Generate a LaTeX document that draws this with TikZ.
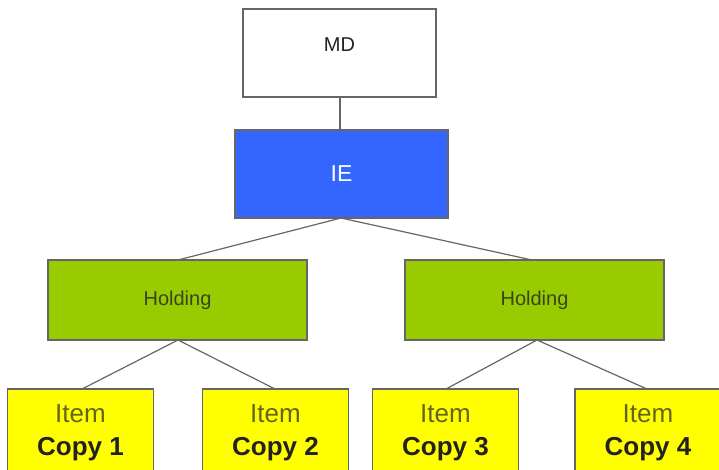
\documentclass[tikz,border=0pt]{standalone}
\usepackage{fontspec}
\setmainfont{Liberation Sans}
\definecolor{iefill}{HTML}{3366FF}
\definecolor{holdfill}{HTML}{99CC00}
\definecolor{itemfill}{HTML}{FFFF00}
\definecolor{edgegray}{HTML}{666666}
\definecolor{txtgray}{HTML}{222222}
\begin{document}
\begin{tikzpicture}[x=1pt,y=-1pt,
  box/.style={draw=edgegray,line width=1.2pt,rectangle,inner sep=0pt,align=center},
  mdbox/.style={box,fill=white,minimum width=193pt,minimum height=88pt,text=txtgray,font=\fontsize{20}{24}\selectfont,text height=15pt,text depth=19pt},
  iebox/.style={box,fill=iefill,minimum width=213pt,minimum height=88pt,text=white,font=\fontsize{23}{27}\selectfont},
  holdbox/.style={box,fill=holdfill,minimum width=259pt,minimum height=80pt,text=txtgray!80!holdfill,font=\fontsize{20}{24}\selectfont},
  itembox/.style={box,fill=itemfill,minimum width=146pt,minimum height=88pt,text=txtgray,font=\fontsize{26}{33}\selectfont},
  link/.style={draw=edgegray,line width=1.2pt}]
\clip (0,0) rectangle (719,469);
\fill[white] (0,0) rectangle (719,469);
\node[mdbox] (md) at (339.5,53) {MD};
\node[iebox] (ie) at (341.5,174) {IE};
\node[holdbox] (h1) at (177.5,300) {Holding};
\node[holdbox] (h2) at (534.5,300) {Holding};
\node[itembox] (c1) at (80.5,433) {\color{txtgray!70!itemfill}Item\\\textbf{Copy 1}};
\node[itembox] (c2) at (275.5,433) {\color{txtgray!70!itemfill}Item\\\textbf{Copy 2}};
\node[itembox] (c3) at (445.5,433) {\color{txtgray!70!itemfill}Item\\\textbf{Copy 3}};
\node[itembox] (c4) at (648,433) {\color{txtgray!70!itemfill}Item\\\textbf{Copy 4}};
\coordinate (iet) at (340,130);
\coordinate (mdb) at (340,97);
\coordinate (ieb) at (341,218);
\coordinate (h1t) at (178,260);
\coordinate (h2t) at (532,260);
\coordinate (h1b) at (178,340);
\coordinate (h2b) at (537,340);
\coordinate (c1t) at (82,389);
\coordinate (c2t) at (275,389);
\coordinate (c3t) at (446,389);
\coordinate (c4t) at (647,389);
\draw[link] (mdb) -- (iet);
\draw[link] (ieb) -- (h1t);
\draw[link] (ieb) -- (h2t);
\draw[link] (h1b) -- (c1t);
\draw[link] (h1b) -- (c2t);
\draw[link] (h2b) -- (c3t);
\draw[link] (h2b) -- (c4t);
\end{tikzpicture}
\end{document}
